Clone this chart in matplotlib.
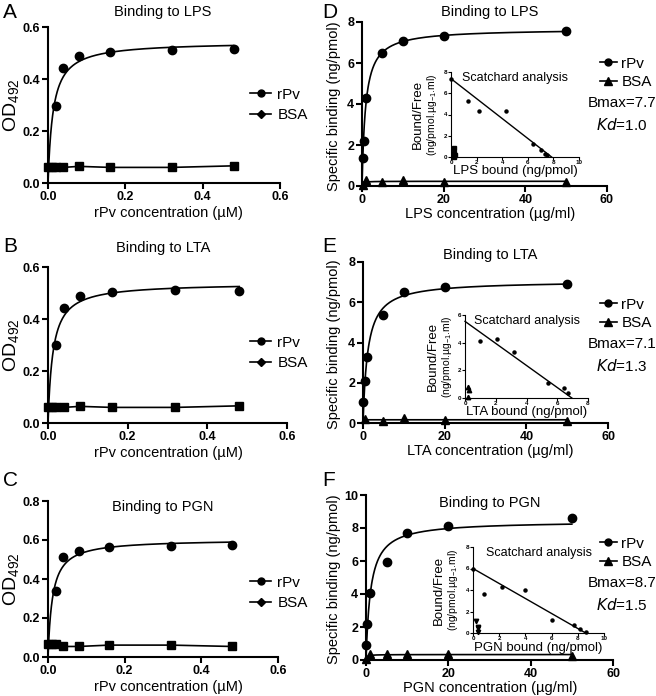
import numpy as np
import matplotlib.pyplot as plt
from matplotlib.lines import Line2D

plt.rcParams['font.family'] = ['Liberation Sans', 'DejaVu Sans']
plt.rcParams['mathtext.default'] = 'regular'

# ---- ELISA binding (left column), x in uM ----
conc_um = [0, 0.01, 0.02, 0.04, 0.08, 0.16, 0.32, 0.48]
rpv_um = [0.02, 0.04, 0.08, 0.16, 0.32, 0.48]

lps_od_rpv = [0.297, 0.442, 0.487, 0.503, 0.513, 0.515]
lps_od_bsa = [0.060, 0.060, 0.060, 0.060, 0.064, 0.060, 0.060, 0.066]
lta_od_rpv = [0.300, 0.444, 0.488, 0.504, 0.510, 0.506]
lta_od_bsa = [0.060, 0.060, 0.060, 0.060, 0.064, 0.060, 0.060, 0.066]
pgn_od_rpv = [0.340, 0.514, 0.545, 0.562, 0.570, 0.574]
pgn_od_bsa = [0.066, 0.066, 0.066, 0.054, 0.054, 0.061, 0.061, 0.054]

# ---- specific binding (right column), x in ug/ml ----
lps_x_rpv = [0.2, 0.4, 1, 5, 10, 20, 50]
lps_sb_rpv = [1.35, 2.2, 4.3, 6.5, 7.05, 7.3, 7.55]
lps_x_bsa = [0.2, 1, 5, 10, 20, 50]
lps_sb_bsa = [0.05, 0.3, 0.18, 0.3, 0.18, 0.18]

lta_x_rpv = [0.1, 0.5, 1, 5, 10, 20, 50]
lta_sb_rpv = [1.03, 2.1, 3.27, 5.37, 6.5, 6.78, 6.9]
lta_x_bsa = [0.5, 5, 10, 20, 50]
lta_sb_bsa = [0.2, 0.1, 0.25, 0.15, 0.1]

pgn_x_rpv = [0.1, 0.3, 1, 5, 10, 20, 50]
pgn_sb_rpv = [0.9, 2.2, 4.04, 5.96, 7.68, 8.12, 8.59]
pgn_x_bsa = [0.1, 1, 5, 10, 20, 50]
pgn_sb_bsa = [0.05, 0.34, 0.34, 0.34, 0.34, 0.24]

# ---- Scatchard insets: bound vs bound/free ----
lps_scat_b = [0, 1.35, 2.19, 4.27, 6.43, 7.03, 7.34, 7.5]
lps_scat_bf = [7.3, 5.27, 4.33, 4.3, 1.25, 0.69, 0.31, 0.15]
lps_scat_bsa_b = [0.25, 0.25, 0.3, 0.2]
lps_scat_bsa_bf = [0.85, 0.38, 0.15, 0.02]
lps_scat_line = [7.37, 7.86]   # B/F intercept, B intercept

lta_scat_b = [0.99, 2.06, 3.2, 5.37, 6.45, 6.7]
lta_scat_bf = [4.12, 4.24, 3.29, 1.09, 0.69, 0.33]
lta_scat_bsa_b = [0.17, 0.28, 0.2]
lta_scat_bsa_bf = [0.8, 0.6, 0.1]
lta_scat_line = [5.54, 6.95]

pgn_scat_b = [0, 0.86, 2.2, 4.0, 6.0, 7.7, 8.2, 8.6]
pgn_scat_bf = [6.0, 3.6, 4.3, 4.0, 1.2, 0.75, 0.35, 0.05]
pgn_scat_bsa_b = [0.25, 0.35, 0.4, 0.35]
pgn_scat_bsa_bf = [1.15, 0.6, 0.45, 0.05]
pgn_scat_line = [6.0, 8.6]

bmax_kd = [("7.7", "1.0"), ("7.1", "1.3"), ("8.7", "1.5")]

W, H = 656, 696
fig = plt.figure(figsize=(W / 100, H / 100), dpi=100)


def px_axes(l, r, t, b):
    return fig.add_axes([l / W, 1 - b / H, (r - l) / W, (b - t) / H])


def ftext(x, y, s, **kw):
    return fig.text(x / W, 1 - y / H, s, **kw)


def fit_curve(x, y, xmax):
    # one-site saturation fit, grid on Kd, closed form Bmax
    x = np.asarray(x, float)
    y = np.asarray(y, float)
    best = None
    for kd in np.geomspace(1e-4, 100, 3000):
        f = x / (kd + x)
        bmax = (f * y).sum() / (f * f).sum()
        sse = ((bmax * f - y) ** 2).sum()
        if best is None or sse < best[0]:
            best = (sse, bmax, kd)
    xs = np.concatenate([np.linspace(0, xmax * 0.03, 150), np.linspace(xmax * 0.03, xmax, 300)])
    return xs, best[1] * xs / (best[2] + xs)


def style(ax, lw=1.5, size=9, length=4):
    for s in ["top", "right"]:
        ax.spines[s].set_visible(False)
    for s in ["left", "bottom"]:
        ax.spines[s].set_linewidth(lw)
    ax.tick_params(direction="out", length=length, width=lw, labelsize=size, pad=1.5)
    for lab in ax.get_xticklabels() + ax.get_yticklabels():
        lab.set_fontweight("bold")


def left_panel(box, rpv_y, bsa_y, ymax, title, title_y, leg_y):
    ax = px_axes(*box)
    xs, ys = fit_curve(rpv_um, rpv_y, rpv_um[-1])
    ax.plot(xs, ys, color="black", lw=1.2, clip_on=False)
    ax.plot(rpv_um, rpv_y, "o", color="black", ms=6, clip_on=False)
    xs, ys = fit_curve(conc_um, bsa_y, conc_um[-1])
    ax.plot(conc_um, bsa_y, "s-", color="black", lw=1.2, ms=5.5, clip_on=False)
    ax.set_xlim(0, 0.6)
    ax.set_ylim(0, ymax)
    ax.set_xticks([0, 0.2, 0.4, 0.6])
    ax.set_yticks(np.arange(0, ymax + 0.01, 0.2))
    ax.xaxis.set_major_formatter("{x:.1f}")
    ax.yaxis.set_major_formatter("{x:.1f}")
    style(ax)
    handles = [Line2D([], [], color="black", marker="o", ms=5, lw=1.2),
               Line2D([], [], color="black", marker="D", ms=4.5, lw=1.2)]
    l, r, t, b = box
    ax.legend(handles, ["rPv", "BSA"], loc="center left",
              bbox_to_anchor=((250 - l) / (r - l), (b - leg_y) / (b - t)),
              frameon=False, fontsize=11, handlelength=1.4, handletextpad=0.4,
              labelspacing=0.45, borderpad=0, borderaxespad=0)
    ftext(163, title_y, title, fontsize=10.5, ha="center", va="center")
    ftext(168, b + 30, "rPv concentration (\u00b5M)", fontsize=10.5, ha="center", va="center")
    ftext(11, (t + b) / 2, r"OD$_{492}$", fontsize=14, rotation=90, ha="center", va="center")
    return ax


def right_panel(box, x_rpv, y_rpv, x_bsa, y_bsa, ymax, yticks, title, title_y, name, leg_y,
                bk, inset, scat, bsa_marker):
    ax = px_axes(*box)
    xs, ys = fit_curve(x_rpv, y_rpv, x_rpv[-1])
    ax.plot(xs, ys, color="black", lw=1.2, clip_on=False)
    ax.plot(x_rpv, y_rpv, "o", color="black", ms=6, clip_on=False)
    xs, ys = fit_curve(x_bsa, y_bsa, x_bsa[-1])
    ax.plot(xs, ys, color="black", lw=1.2, clip_on=False)
    ax.plot(x_bsa, y_bsa, "^", color="black", ms=6, clip_on=False)
    ax.set_xlim(0, 60)
    ax.set_ylim(0, ymax)
    ax.set_xticks([0, 20, 40, 60])
    ax.set_yticks(yticks)
    style(ax)
    l, r, t, b = box
    handles = [Line2D([], [], color="black", marker="o", ms=5, lw=1.2),
               Line2D([], [], color="black", marker="^", ms=5.5, lw=1.2)]
    ax.legend(handles, ["rPv", "BSA"], loc="center left",
              bbox_to_anchor=((600 - l) / (r - l), (b - leg_y) / (b - t)),
              frameon=False, fontsize=11, handlelength=1.1, handletextpad=0.3,
              labelspacing=0.3, borderpad=0, borderaxespad=0)
    ftext(622, leg_y + 30, "Bmax=" + bk[0], fontsize=11, ha="center", va="center")
    ftext(622, leg_y + 52, r"$\it{Kd}$=" + bk[1], fontsize=11, ha="center", va="center")
    ftext(490, title_y, title, fontsize=10.5, ha="center", va="center")
    ftext(490, b + 28, name + " concentration (\u00b5g/ml)", fontsize=10.5, ha="center", va="center")
    ftext(334, (t + b) / 2 + 2, "Specific binding (ng/pmol)", fontsize=10.5, rotation=90,
          ha="center", va="center")

    # Scatchard inset
    il, ir, it, ib, ixmax, iymax, ixt, iyt = inset
    b_r, bf_r, b_b, bf_b, line = scat
    ia = px_axes(il, ir, it, ib)
    ia.plot([0, line[1]], [line[0], 0], color="black", lw=1.0, clip_on=False)
    ia.plot(b_r, bf_r, "o", color="black", ms=2.2, clip_on=False)
    ia.plot(b_b, bf_b, bsa_marker, color="black", ms=3.2, clip_on=False)
    ia.set_xlim(0, ixmax)
    ia.set_ylim(0, iymax)
    ia.set_xticks(ixt)
    ia.set_yticks(iyt)
    ia.patch.set_alpha(0)
    style(ia, lw=0.8, size=4.5, length=2)
    ia.tick_params(pad=0.5)
    ia.text(0.5, 0.93, "Scatchard analysis", transform=ia.transAxes, fontsize=9,
            ha="center", va="center")
    ia.text(0.5, -0.17, name + " bound (ng/pmol)", transform=ia.transAxes, fontsize=9.5,
            ha="center", va="center")
    ia.text(-0.26, 0.5, "Bound/Free", transform=ia.transAxes, fontsize=9.5, rotation=90,
            ha="center", va="center")
    ia.text(-0.15, 0.5, "(ng/pmol.\u00b5g$_{-1}$.ml)", transform=ia.transAxes, fontsize=7.5,
            rotation=90, ha="center", va="center")
    return ax


left_panel((48, 280, 27, 183), lps_od_rpv, lps_od_bsa, 0.6, "Binding to LPS", 12, 105)
left_panel((48, 287, 267, 423), lta_od_rpv, lta_od_bsa, 0.6, "Binding to LTA", 248, 353)
left_panel((48, 278, 501, 657), pgn_od_rpv, pgn_od_bsa, 0.8, "Binding to PGN", 507, 593)

right_panel((362, 607, 22, 186), lps_x_rpv, lps_sb_rpv, lps_x_bsa, lps_sb_bsa, 8, [0, 2, 4, 6, 8],
            "Binding to LPS", 12, "LPS", 73, bmax_kd[0],
            (451, 579, 72, 157, 10, 8, [0, 2, 4, 6, 8, 10], [0, 2, 4, 6, 8]),
            (lps_scat_b, lps_scat_bf, lps_scat_bsa_b, lps_scat_bsa_bf, lps_scat_line), "s")
right_panel((363, 608, 262, 423), lta_x_rpv, lta_sb_rpv, lta_x_bsa, lta_sb_bsa, 8, [0, 2, 4, 6, 8],
            "Binding to LTA", 255, "LTA", 314, bmax_kd[1],
            (465, 588, 315, 398, 8, 6, [0, 2, 4, 6, 8], [0, 2, 4, 6]),
            (lta_scat_b, lta_scat_bf, lta_scat_bsa_b, lta_scat_bsa_bf, lta_scat_line), "^")
right_panel((366, 613, 495, 660), pgn_x_rpv, pgn_sb_rpv, pgn_x_bsa, pgn_sb_bsa, 10, [0, 2, 4, 6, 8, 10],
            "Binding to PGN", 503, "PGN", 553, bmax_kd[2],
            (473, 604, 547, 633, 10, 8, [0, 2, 4, 6, 8, 10], [0, 2, 4, 6, 8]),
            (pgn_scat_b, pgn_scat_bf, pgn_scat_bsa_b, pgn_scat_bsa_bf, pgn_scat_line), "v")

for letter, x, y in [("A", 3, 12), ("B", 3, 246), ("C", 3, 481),
                     ("D", 322, 12), ("E", 322, 246), ("F", 322, 481)]:
    ftext(x, y, letter, fontsize=15, ha="left", va="center")

fig.savefig("out.png", dpi=100)
